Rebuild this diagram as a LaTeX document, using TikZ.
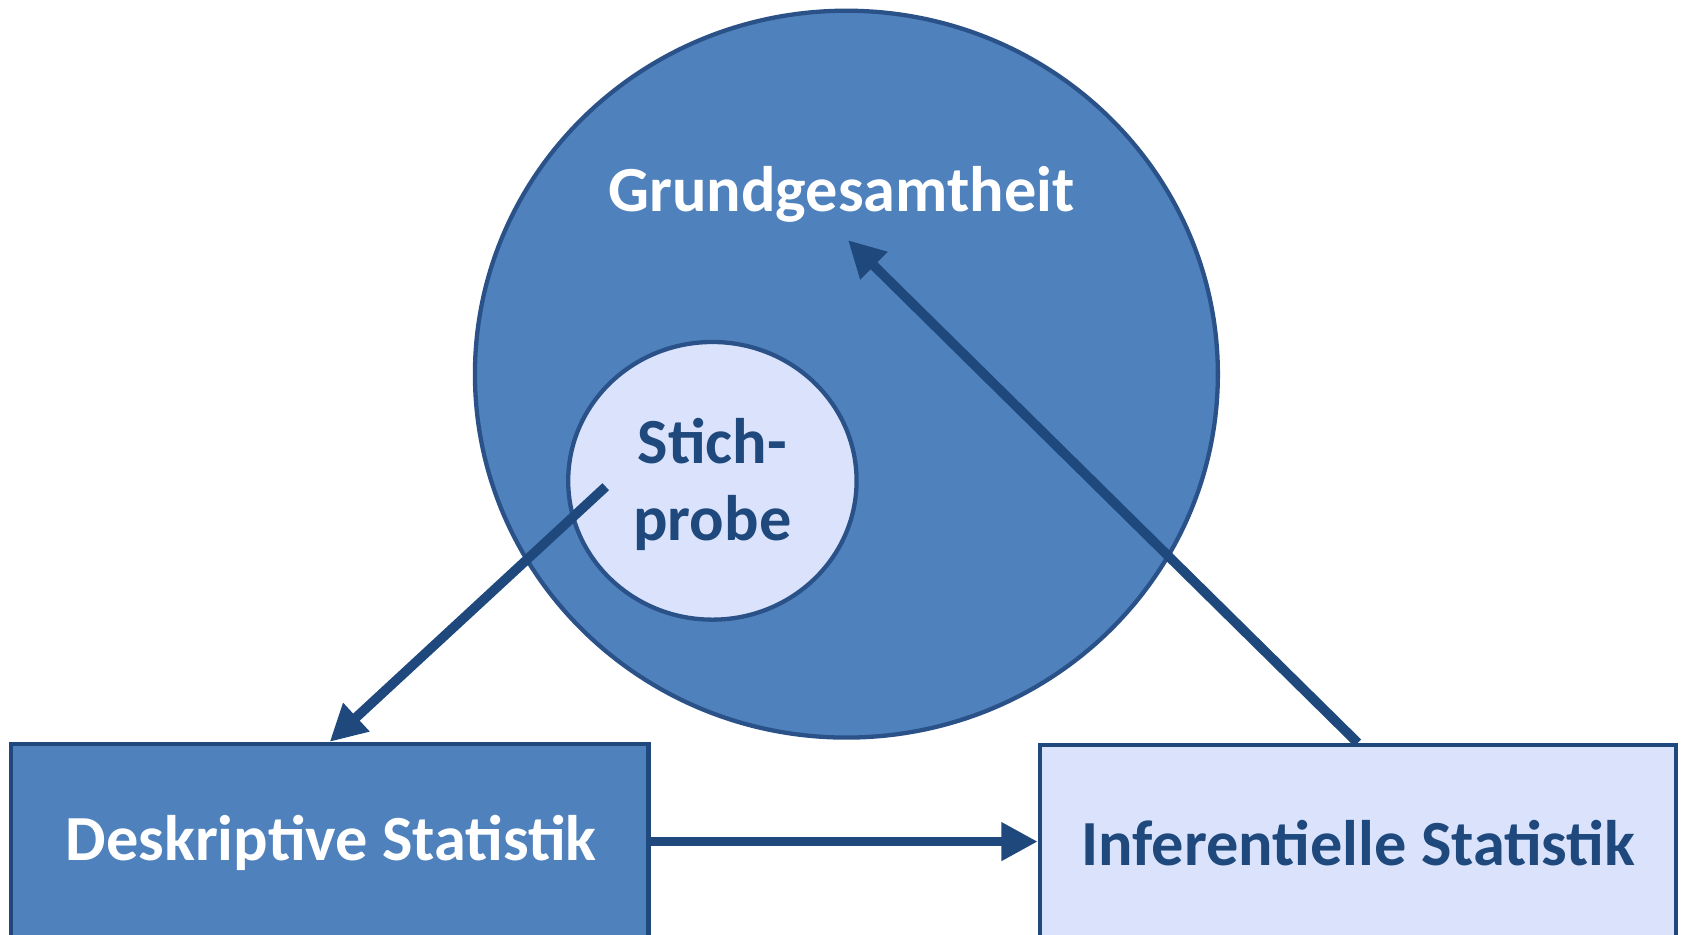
\documentclass[tikz,border=0pt]{standalone}
\usepackage{fontspec}
\setmainfont{Carlito}
\usetikzlibrary{shapes.geometric,arrows.meta,calc}
\definecolor{mid}{HTML}{4F81BD}
\definecolor{light}{HTML}{DAE3FB}
\definecolor{dark}{HTML}{1F497D}
\definecolor{edge}{HTML}{2A5289}
\tikzset{
  ell/.style={ellipse, draw=edge, line width=2pt, inner sep=0pt},
  box/.style={rectangle, draw=dark, line width=2pt, inner sep=0pt, anchor=north},
  lbl/.style={font=\fontsize{30pt}{36pt}\selectfont\bfseries, inner sep=0pt, align=center},
  arr/.style={draw=dark, line width=4.5pt, -{Triangle[length=17pt,width=17pt]}},
}
\begin{document}
\begin{tikzpicture}[x=0.5pt,y=-0.5pt]
\useasboundingbox (0,0) rectangle (1568,872);
\node[ell, fill=mid, minimum width=346.5pt, minimum height=339pt] (pop) at (789.5,349) {};
\node[lbl, text=white] (popt) at (785,181) {Grundgesamtheit};
\node[ell, fill=light, minimum width=134.5pt, minimum height=129.5pt] (smp) at (664.5,448.5) {};
\node[lbl, text=dark] (smpt) at (664.5,452) {Stich-\\probe};
\node[box, fill=mid, minimum width=297.5pt, minimum height=200pt] (desk) at (307.5,692) {};
\node[lbl, text=white] (deskt) at (309,786) {Deskriptive Statistik};
\node[box, fill=light, minimum width=296.5pt, minimum height=200pt] (infr) at (1266.5,693) {};
\node[lbl, text=dark] (infrt) at (1267,786) {Inferentielle Statistik};
\coordinate (a1s) at (565,454);
\coordinate (a2e) at (791,224);
\draw[arr] (a1s) -- (desk.north);
\draw[arr] (infr.north) -- (a2e);
\draw[arr] (desk.north east |- 0,785) -- (infr.north west |- 0,785);
\end{tikzpicture}
\end{document}
